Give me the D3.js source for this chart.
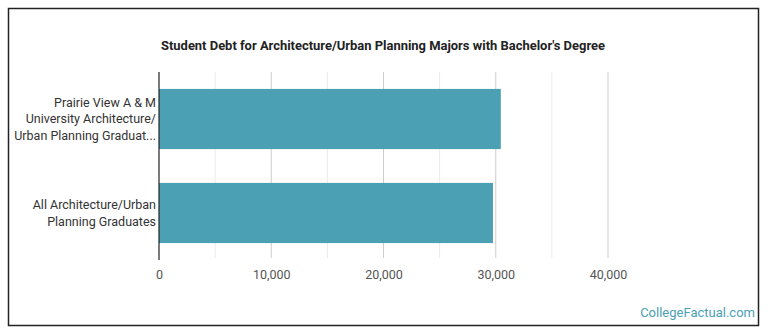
<!DOCTYPE html>
<html lang="en">
<head>
<meta charset="UTF-8">
<title>Student Debt for Architecture/Urban Planning Majors</title>
<style>
  body { margin: 0; padding: 0; background: #fff; font-family: Roboto, Arial, sans-serif; }
  svg { display: block; }
</style>
</head>
<body>
<div id="chart"></div>
<script src="https://cdn.jsdelivr.net/npm/d3@7"></script>
<script>
// data
const categories = [
  ["Prairie View A & M", "University Architecture/", "Urban Planning Graduat..."],
  ["All Architecture/Urban", "Planning Graduates"]
];
const debtValues = [30450, 29750];
const tickValues = [0, 10000, 20000, 30000, 40000];
const gridValues = [5000, 10000, 15000, 20000, 25000, 30000, 35000, 40000];

const width = 770, height = 335;
const margin = { top: 72, right: 162, bottom: 75, left: 159 };

const svg = d3.select("#chart").append("svg")
  .attr("width", width)
  .attr("height", height);

// frame
svg.append("rect")
  .attr("x", 8.5).attr("y", 8.5)
  .attr("width", 750).attr("height", 317)
  .attr("fill", "none")
  .attr("stroke", "#222")
  .attr("stroke-width", 1.5);

svg.append("text")
  .attr("x", 383)
  .attr("y", 50)
  .attr("text-anchor", "middle")
  .attr("font-size", 12.5)
  .attr("font-weight", "bold")
  .attr("fill", "#222")
  .attr("textLength", 444)
  .attr("lengthAdjust", "spacingAndGlyphs")
  .text("Student Debt for Architecture/Urban Planning Majors with Bachelor's Degree");

const x = d3.scaleLinear()
  .domain([0, 40000])
  .range([margin.left, width - margin.right]);

const y = d3.scaleBand()
  .domain(d3.range(categories.length))
  .range([margin.top, height - margin.bottom])
  .paddingInner(0.36)
  .paddingOuter(0.18);

// grid
svg.append("g")
  .selectAll("line")
  .data(gridValues)
  .enter().append("line")
  .attr("x1", d => x(d)).attr("x2", d => x(d))
  .attr("y1", margin.top).attr("y2", height - margin.bottom - 2)
  .attr("stroke", d => d % 10000 === 0 ? "#ccc" : "#ebebeb")
  .attr("stroke-width", 1);

// bars
svg.append("g")
  .selectAll("rect")
  .data(debtValues)
  .enter().append("rect")
  .attr("x", x(0))
  .attr("y", (d, i) => y(i))
  .attr("width", d => x(d) - x(0))
  .attr("height", y.bandwidth())
  .attr("fill", "#4ba0b4");

// x axis labels
const xAxis = svg.append("g")
  .attr("transform", `translate(0,${height - margin.bottom})`)
  .call(d3.axisBottom(x).tickValues(tickValues).tickSize(0).tickPadding(10)
    .tickFormat(d3.format(",")));
xAxis.select(".domain").remove();
xAxis.selectAll("text")
  .attr("font-family", "Roboto, Arial, sans-serif")
  .attr("font-size", 12.5)
  .attr("fill", "#555");

// vertical axis line
svg.append("line")
  .attr("x1", x(0)).attr("x2", x(0))
  .attr("y1", margin.top).attr("y2", height - margin.bottom)
  .attr("stroke", "#222")
  .attr("stroke-width", 1.2);

// y labels
const lineH = 16.7;
const labels = svg.append("g")
  .selectAll("text")
  .data(categories)
  .enter().append("text")
  .attr("text-anchor", "end")
  .attr("font-size", 12.5)
  .attr("fill", "#333");
labels.each(function(lines, i) {
  const cy = y(i) + y.bandwidth() / 2;
  const t = d3.select(this);
  lines.forEach((s, j) => {
    t.append("tspan")
      .attr("x", x(0) - 3)
      .attr("y", cy + (j - (lines.length - 1) / 2) * lineH)
      .attr("dy", "0.35em")
      .text(s);
  });
});

// watermark
svg.append("text")
  .attr("x", 755)
  .attr("y", 317)
  .attr("text-anchor", "end")
  .attr("font-size", 13)
  .attr("fill", "#4ba0b4")
  .text("CollegeFactual.com");
</script>
</body>
</html>
